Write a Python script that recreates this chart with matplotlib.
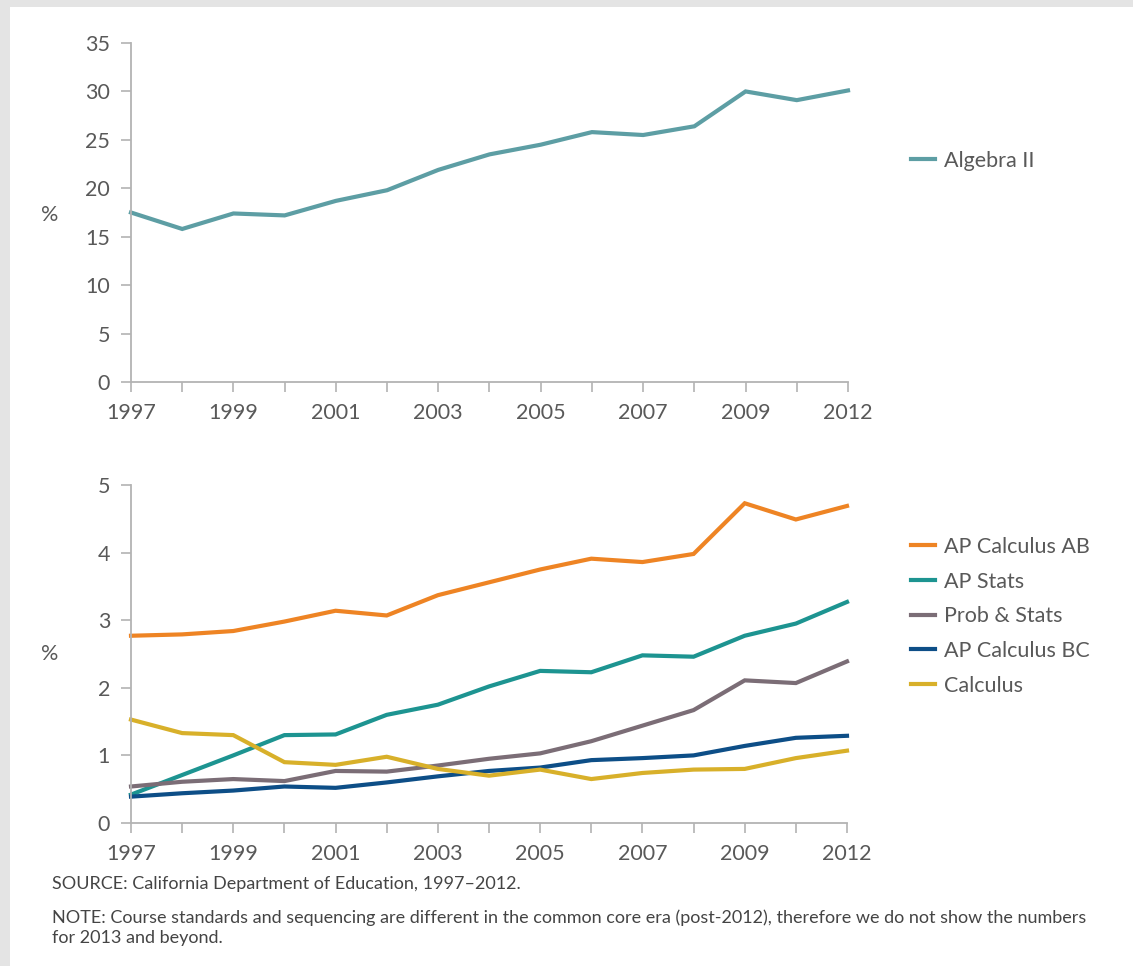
import matplotlib
matplotlib.use("Agg")
import matplotlib.pyplot as plt
from matplotlib.patches import Rectangle

plt.rcParams['font.family'] = ['Lato', 'DejaVu Sans']

years = ['1997', '1998', '1999', '2000', '2001', '2002', '2003', '2004',
         '2005', '2006', '2007', '2008', '2009', '2010', '2012']
year_labels = ['1997', '', '1999', '', '2001', '', '2003', '',
               '2005', '', '2007', '', '2009', '', '2012']

algebra2 = [17.5, 15.8, 17.4, 17.2, 18.7, 19.8, 21.9, 23.5,
            24.5, 25.8, 25.5, 26.4, 30.0, 29.1, 30.1]

ap_calc_ab = [2.77, 2.79, 2.84, 2.98, 3.14, 3.07, 3.37, 3.56,
              3.75, 3.91, 3.86, 3.98, 4.73, 4.49, 4.69]
ap_stats = [0.42, 0.71, 1.00, 1.30, 1.31, 1.60, 1.75, 2.02,
            2.25, 2.23, 2.48, 2.46, 2.77, 2.95, 3.27]
prob_stats = [0.54, 0.61, 0.65, 0.62, 0.77, 0.76, 0.85, 0.95,
              1.03, 1.21, 1.44, 1.67, 2.11, 2.07, 2.39]
ap_calc_bc = [0.39, 0.44, 0.48, 0.54, 0.52, 0.60, 0.69, 0.77,
              0.82, 0.93, 0.96, 1.00, 1.14, 1.26, 1.29]
calculus = [1.53, 1.33, 1.30, 0.90, 0.86, 0.98, 0.80, 0.70,
            0.79, 0.65, 0.74, 0.79, 0.80, 0.96, 1.07]

top_series = [("Algebra II", algebra2, "#5d9ea4")]
bottom_series = [
    ("AP Calculus AB", ap_calc_ab, "#ee8424"),
    ("AP Stats", ap_stats, "#1d9491"),
    ("Prob & Stats", prob_stats, "#7b6d76"),
    ("AP Calculus BC", ap_calc_bc, "#0d4e87"),
    ("Calculus", calculus, "#d8b02a"),
]

W, H = 1133, 966
fig = plt.figure(figsize=(W / 100, H / 100), dpi=100)
fig.patch.set_facecolor('white')

# gray frame
fig.patches.append(Rectangle((0, 1 - 7 / H), 1, 7 / H, transform=fig.transFigure,
                             facecolor='#e4e4e4', edgecolor='none', zorder=0))
fig.patches.append(Rectangle((0, 0), 10 / W, 1, transform=fig.transFigure,
                             facecolor='#e4e4e4', edgecolor='none', zorder=0))

text_color = '#595959'
axis_color = '#b3b3b3'
tick_fs = 15.5
leg_fs = 15.5
note_fs = 13


def make_axes(x0, x1, ytop, ybot):
    return fig.add_axes([x0 / W, 1 - ybot / H, (x1 - x0) / W, (ybot - ytop) / H])


def style(ax, ymax, ystep):
    x = list(range(len(years)))
    ax.set_xlim(0, len(years) - 1)
    ax.set_ylim(0, ymax)
    ax.set_xticks(x)
    ax.set_xticklabels(year_labels)
    ax.set_yticks(list(range(0, ymax + 1, ystep)))
    for s in ['top', 'right']:
        ax.spines[s].set_visible(False)
    for s in ['left', 'bottom']:
        ax.spines[s].set_color(axis_color)
        ax.spines[s].set_linewidth(1.3)
    ax.tick_params(axis='both', colors=axis_color, labelcolor=text_color,
                   labelsize=tick_fs, length=7, width=1.2)
    ax.tick_params(axis='y', pad=8)
    ax.tick_params(axis='x', pad=8)
    ax.set_facecolor('none')


# Top chart
ax1 = make_axes(131, 848, 43, 382)
for name, vals, col in top_series:
    ax1.plot(range(len(years)), vals, color=col, lw=3, label=name,
             solid_joinstyle='miter', clip_on=False)
style(ax1, 35, 5)
leg1 = ax1.legend(loc='center left', bbox_to_anchor=(911 / W, 1 - 161 / H),
                  bbox_transform=fig.transFigure, frameon=False,
                  fontsize=leg_fs, handlelength=1.1, handletextpad=0.45,
                  borderaxespad=0, borderpad=0)
for t in leg1.get_texts():
    t.set_color(text_color)
fig.text(50 / W, 1 - 215 / H, '%', fontsize=tick_fs, color=text_color,
         ha='center', va='center')

# Bottom chart
ax2 = make_axes(131, 847, 485, 823)
for name, vals, col in bottom_series:
    ax2.plot(range(len(years)), vals, color=col, lw=3, label=name,
             solid_joinstyle='miter', clip_on=False)
style(ax2, 5, 1)
leg2 = ax2.legend(loc='upper left', bbox_to_anchor=(911 / W, 1 - 537 / H),
                  bbox_transform=fig.transFigure, frameon=False,
                  fontsize=leg_fs, handlelength=1.1, handletextpad=0.45,
                  labelspacing=0.68, borderaxespad=0, borderpad=0)
for t in leg2.get_texts():
    t.set_color(text_color)
fig.text(50 / W, 1 - 654 / H, '%', fontsize=tick_fs, color=text_color,
         ha='center', va='center')

# Notes
fig.text(52 / W, 1 - 884 / H, 'SOURCE: California Department of Education, 1997\u20132012.',
         fontsize=note_fs, color='#444444', ha='left', va='center')
fig.text(52 / W, 1 - 918 / H,
         'NOTE: Course standards and sequencing are different in the common core era (post-2012), '
         'therefore we do not show the numbers',
         fontsize=note_fs, color='#444444', ha='left', va='center')
fig.text(52 / W, 1 - 938 / H, 'for 2013 and beyond.',
         fontsize=note_fs, color='#444444', ha='left', va='center')

fig.savefig('out.png', dpi=100, facecolor='white')
